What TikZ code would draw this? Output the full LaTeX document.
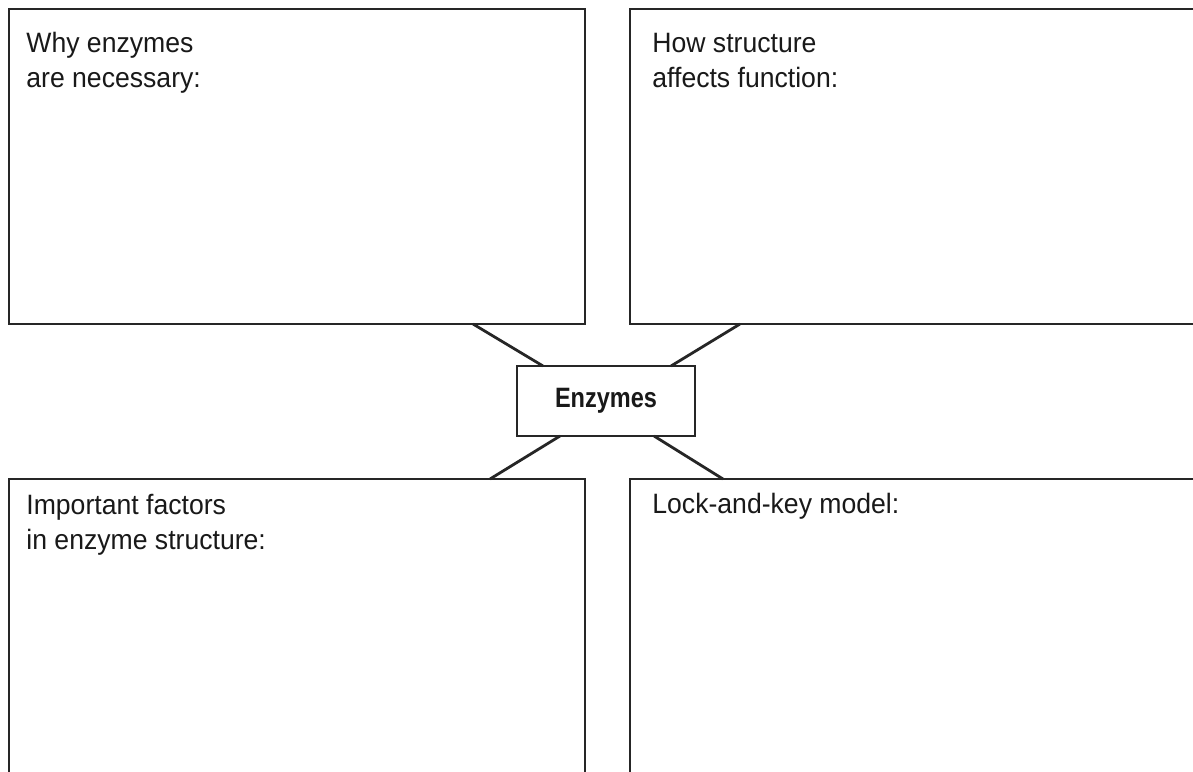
\documentclass[tikz,border=0pt]{standalone}
\usepackage{fontspec}
\setmainfont{Liberation Sans}[FakeStretch=0.95]
\newfontfamily\hubfont{Liberation Sans}[FakeStretch=0.84]

\begin{document}
\begin{tikzpicture}[x=0.5pt,y=-0.5pt,
  panel/.style={draw=black!85, line width=1pt, inner sep=0pt, outer sep=0pt},
  hub/.style={draw=black!85, line width=1pt, inner sep=0pt, outer sep=0pt,
    minimum width=89pt, minimum height=35pt, text=black!90,
    font=\hubfont\bfseries\fontsize{14}{16}\selectfont},
  note/.style={inner sep=0pt, align=left, anchor=base west, text=black!90,
    font=\fontsize{14}{17.5}\selectfont},
  link/.style={line width=1.4pt, draw=black!85}]
\useasboundingbox (0,0) rectangle (1193,771);
\clip (0,0) rectangle (1193,771);
\fill[white] (0,0) rectangle (1193,771);
\node[panel, minimum width=288.25pt, minimum height=157.5pt, anchor=north west] (why) at (8.5,9) {};
\node[panel, minimum width=300pt, minimum height=157.5pt, anchor=north west] (how) at (630,9) {};
\node[panel, minimum width=288.25pt, minimum height=160pt, anchor=north west] (fac) at (8.5,479) {};
\node[panel, minimum width=300pt, minimum height=160pt, anchor=north west] (lock) at (630,479) {};
\node[hub] (enz) at (606,401) {Enzymes};
\draw[link] ([xshift=-56pt]why.south east) -- ([xshift=13pt]enz.north west);
\draw[link] ([xshift=55pt]how.south west) -- ([xshift=-12pt]enz.north east);
\draw[link] ([xshift=-47.5pt]fac.north east) -- ([xshift=21.5pt]enz.south west);
\draw[link] ([xshift=46.5pt]lock.north west) -- ([xshift=-20.5pt]enz.south east);
\node[note] (whytxt) at ([shift={(8.75pt,-39pt)}]why.north west) {Why enzymes\\are necessary:};
\node[note] (howtxt) at ([shift={(11pt,-39pt)}]how.north west) {How structure\\affects function:};
\node[note] (factxt) at ([shift={(8.75pt,-35pt)}]fac.north west) {Important factors\\in enzyme structure:};
\node[note] (locktxt) at ([shift={(11pt,-17pt)}]lock.north west) {Lock-and-key model:};
\end{tikzpicture}
\end{document}
